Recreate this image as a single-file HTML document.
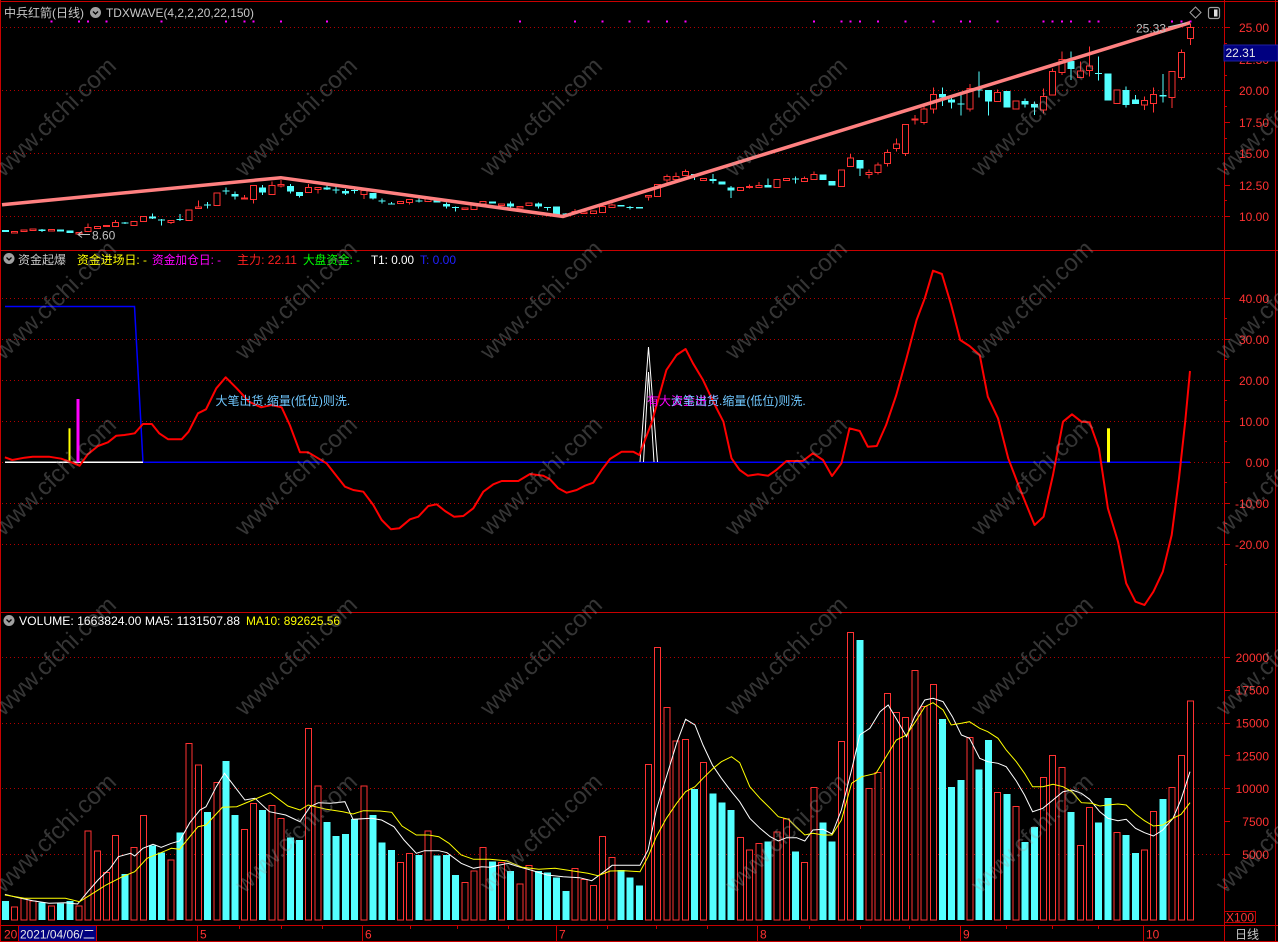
<!DOCTYPE html>
<html><head><meta charset="utf-8"><style>
html,body{margin:0;padding:0;background:#000;overflow:hidden}
svg{display:block}
</style></head><body>
<svg width="1278" height="942" viewBox="0 0 1278 942" xmlns="http://www.w3.org/2000/svg" font-family="'Liberation Sans','Noto Sans CJK SC',sans-serif" font-size="12">
<rect width="1278" height="942" fill="#000"/>

<!-- dotted grids -->
<g stroke="#b00000" stroke-width="1" stroke-dasharray="1 3" shape-rendering="crispEdges">
<path d="M2 27.5H1224M2 90.5H1224M2 153.5H1224M2 216.5H1224"/>
<path d="M2 298.5H1224M2 339.5H1224M2 380.5H1224M2 421.5H1224M2 462.5H1224M2 503.5H1224M2 544.5H1224"/>
<path d="M2 657.5H1224M2 723.5H1224M2 788.5H1224M2 854.5H1224"/>
</g>

<!-- frame -->
<g stroke="#c80000" stroke-width="1" fill="none" shape-rendering="crispEdges">
<path d="M0 1.5H1278M0 250.5H1278M0 612.5H1278M0 925.5H1278M0 941.5H1278"/>
<path d="M0.5 0V942M1224.5 0V942M1275.5 0V942"/>
<path d="M18.5 925V942M96.5 925V942M197.5 925V942M362.5 925V942M556.5 925V942M757.5 925V942M960.5 925V942M1143.5 925V942"/>
<path d="M239.5 925V929M281.5 925V929M322.5 925V929M410.5 925V929M457.5 925V929M508.5 925V929M607.5 925V929M656.5 925V929M707.5 925V929M809.5 925V929M860.5 925V929M909.5 925V929M1006.5 925V929M1052.5 925V929M1098.5 925V929"/>
<path d="M1224 27.5H1230M1224 59.5H1230M1224 90.5H1230M1224 122.5H1230M1224 153.5H1230M1224 185.5H1230M1224 216.5H1230M1224 43.5H1227M1224 75.5H1227M1224 106.5H1227M1224 138.5H1227M1224 169.5H1227M1224 200.5H1227"/>
<path d="M1224 298.5H1230M1224 339.5H1230M1224 380.5H1230M1224 421.5H1230M1224 462.5H1230M1224 503.5H1230M1224 544.5H1230M1224 318.5H1227M1224 359.5H1227M1224 400.5H1227M1224 441.5H1227M1224 482.5H1227M1224 523.5H1227M1224 564.5H1227"/>
<path d="M1224 657.5H1230M1224 690.5H1230M1224 723.5H1230M1224 755.5H1230M1224 788.5H1230M1224 821.5H1230M1224 854.5H1230M1224 887.5H1227"/>
<rect x="1224.5" y="911.5" width="31" height="11"/>
</g>

<!-- header panel 1 -->
<text x="4" y="17" fill="#c8c8c8" textLength="80" lengthAdjust="spacingAndGlyphs">中兵红箭(日线)</text>
<circle cx="95.5" cy="12.5" r="5.5" fill="#a0a0a0"/><path d="M93 11.5L95.5 14L98 11.5" stroke="#000" stroke-width="1.3" fill="none"/>
<text x="106" y="17" fill="#c8c8c8" textLength="148" lengthAdjust="spacingAndGlyphs">TDXWAVE(4,2,2,20,22,150)</text>

<!-- magenta dots -->
<g fill="#ff00ff" shape-rendering="crispEdges">
<rect x="50.4" y="20.5" width="2" height="2"/><rect x="78" y="20.5" width="2" height="2"/><rect x="87.2" y="20.5" width="2" height="2"/><rect x="105.5" y="20.5" width="2" height="2"/><rect x="160.7" y="20.5" width="2" height="2"/><rect x="225" y="20.5" width="2" height="2"/><rect x="243.3" y="20.5" width="2" height="2"/><rect x="252.5" y="20.5" width="2" height="2"/><rect x="280.1" y="20.5" width="2" height="2"/><rect x="326" y="20.5" width="2" height="2"/><rect x="518.9" y="20.5" width="2" height="2"/><rect x="574" y="20.5" width="2" height="2"/><rect x="601.6" y="20.5" width="2" height="2"/><rect x="628.5" y="20.5" width="2" height="2"/><rect x="647.5" y="20.5" width="2" height="2"/><rect x="665.9" y="20.5" width="2" height="2"/><rect x="684.3" y="20.5" width="2" height="2"/><rect x="812.9" y="20.5" width="2" height="2"/><rect x="840.4" y="20.5" width="2" height="2"/><rect x="849.6" y="20.5" width="2" height="2"/><rect x="858.8" y="20.5" width="2" height="2"/><rect x="877.2" y="20.5" width="2" height="2"/><rect x="904.7" y="20.5" width="2" height="2"/><rect x="932.3" y="20.5" width="2" height="2"/><rect x="959.8" y="20.5" width="2" height="2"/><rect x="969" y="20.5" width="2" height="2"/><rect x="996.6" y="20.5" width="2" height="2"/><rect x="1042.5" y="20.5" width="2" height="2"/><rect x="1051.7" y="20.5" width="2" height="2"/><rect x="1060.9" y="20.5" width="2" height="2"/><rect x="1070.1" y="20.5" width="2" height="2"/><rect x="1088.4" y="20.5" width="2" height="2"/><rect x="1097.6" y="20.5" width="2" height="2"/><rect x="1171.1" y="20.5" width="2" height="2"/><rect x="1180.3" y="20.5" width="2" height="2"/><rect x="1189.5" y="20.5" width="2" height="2"/>
</g>

<!-- candles: wicks -->
<path stroke="#ff3232" stroke-width="1" fill="none" shape-rendering="crispEdges" d="M88.2 223.3V231.3M115.7 220V226.3M170.8 220.3V224M198.4 200.3V208.5M244.3 195V199M253.5 185.3V203.3M271.9 181.7V194.3M281.1 180V187.3M308.6 184V192.7M317.8 187.7V193.3M363.8 188.3V199M409.7 199.3V204.3M428.1 197.3V201.3M575 209V213M611.8 203.3V207.7M648.5 195.3V200.3M666.9 174.3V182.7M676.1 172.7V181.7M685.3 169.3V175.7M749.6 184.3V188.3M758.8 182V187.3M804.7 176.7V181.7M813.9 171.7V179.3M850.6 154V166.7M869 169.3V178.7M878.2 162.7V174.7M887.4 149.3V166.7M896.5 138.3V151.7M905.7 124.3V156M914.9 115V124.3M924.1 106.7V124.3M933.3 87.7V113.3M970 84V111.7M997.6 89.3V101.7M1043.5 88.3V113.3M1052.7 68.3V95M1061.9 51.7V75M1080.3 61.7V77.3M1089.4 46.7V76.7M1144.6 96.7V110M1153.7 87.3V112.3M1172.1 71.7V108M1181.3 49.3V80M1190.5 23.3V45"/>
<path stroke="#54ffff" stroke-width="1" fill="none" shape-rendering="crispEdges" d="M42.2 229V232M124.9 222V224M152.5 213.3V219M161.7 219V225.3M180 214V221M207.6 202V208.3M226 187.3V194.3M235.2 191.7V199.3M262.7 185V195M290.3 184V193.3M299.5 192V197.3M327 182.3V190M336.2 187V193.7M345.4 189V195M354.6 188.3V193.3M372.9 193V199.7M382.1 198.3V203.7M391.3 202V204.7M418.9 198.3V202.7M446.4 202.3V208.3M455.6 206.3V211.3M510.7 201.7V208.7M538.3 202.7V208.7M547.5 207V210.3M565.8 213V216M630.1 206V209.5M694.5 174V180M712.8 174V183.3M731.2 186V198M767.9 178.3V187.3M795.5 176.7V183.3M859.8 160V176M942.5 87.3V106M951.7 95V108.3M960.8 92.7V115.7M979.2 71.7V97.7M988.4 90V115.7M1025.1 98.3V107.3M1034.3 101.7V115M1071.1 51.7V80M1098.6 56.7V80.7M1126.2 86.7V107.3M1135.4 95V104M1162.9 74V102.7"/>
<!-- red candle bodies -->
<g fill="#000" stroke="#ff3232" stroke-width="1" shape-rendering="crispEdges">
<rect x="11.7" y="231.5" width="6" height="1.5"/><rect x="20.9" y="230" width="6" height="1.5"/><rect x="30.1" y="229" width="6" height="1.5"/><rect x="48.4" y="229.5" width="6" height="1.5"/><rect x="76" y="232.5" width="6" height="1.5"/><rect x="85.2" y="227.3" width="6" height="4"/><rect x="94.4" y="226.3" width="6" height="2.4"/><rect x="103.5" y="225.5" width="6" height="1.2"/><rect x="112.7" y="222.3" width="6" height="4"/><rect x="131.1" y="221.3" width="6" height="4"/><rect x="140.3" y="216.3" width="6" height="5.4"/><rect x="167.8" y="220.3" width="6" height="2"/><rect x="186.2" y="210" width="6" height="10.7"/><rect x="195.4" y="207" width="6" height="1.5"/><rect x="213.8" y="193" width="6" height="12.3"/><rect x="241.3" y="198" width="6" height="1"/><rect x="250.5" y="185.3" width="6" height="14"/><rect x="268.9" y="185.3" width="6" height="9"/><rect x="278.1" y="184.7" width="6" height="1.3"/><rect x="305.6" y="187.3" width="6" height="5.4"/><rect x="314.8" y="187.7" width="6" height="1.6"/><rect x="360.8" y="190.7" width="6" height="4"/><rect x="397.5" y="201.3" width="6" height="2.4"/><rect x="406.7" y="199.3" width="6" height="3"/><rect x="425.1" y="199" width="6" height="2.3"/><rect x="461.8" y="208" width="6" height="1.3"/><rect x="471" y="205" width="6" height="4.3"/><rect x="480.2" y="201.3" width="6" height="2.7"/><rect x="498.5" y="204" width="6" height="1.3"/><rect x="516.9" y="206.3" width="6" height="1.7"/><rect x="526.1" y="203" width="6" height="2.7"/><rect x="572" y="211.5" width="6" height="1.5"/><rect x="581.2" y="212" width="6" height="1.7"/><rect x="590.4" y="211" width="6" height="2.3"/><rect x="599.6" y="206.3" width="6" height="6"/><rect x="608.8" y="205" width="6" height="2.7"/><rect x="645.5" y="195.3" width="6" height="1.7"/><rect x="654.7" y="184.3" width="6" height="12.4"/><rect x="663.9" y="176.7" width="6" height="3.3"/><rect x="673.1" y="176.7" width="6" height="2.6"/><rect x="682.3" y="171.7" width="6" height="4"/><rect x="700.6" y="178.3" width="6" height="2.4"/><rect x="737.4" y="187.3" width="6" height="3"/><rect x="746.6" y="186.5" width="6" height="1"/><rect x="755.8" y="185.3" width="6" height="2"/><rect x="774.1" y="179.3" width="6" height="8"/><rect x="783.3" y="178.3" width="6" height="2.4"/><rect x="801.7" y="178.3" width="6" height="3.4"/><rect x="810.9" y="174.7" width="6" height="4.6"/><rect x="838.4" y="170" width="6" height="16.7"/><rect x="847.6" y="158" width="6" height="8.7"/><rect x="866" y="172.7" width="6" height="2"/><rect x="875.2" y="165" width="6" height="7.7"/><rect x="884.4" y="152.3" width="6" height="11"/><rect x="893.5" y="144" width="6" height="4.3"/><rect x="902.7" y="124.3" width="6" height="29"/><rect x="911.9" y="119" width="6" height="1"/><rect x="921.1" y="109" width="6" height="13.7"/><rect x="930.3" y="94.3" width="6" height="14.7"/><rect x="967" y="88.3" width="6" height="20.7"/><rect x="994.6" y="92.3" width="6" height="9.4"/><rect x="1013" y="101" width="6" height="8"/><rect x="1040.5" y="96.7" width="6" height="13.3"/><rect x="1049.7" y="71.7" width="6" height="23.3"/><rect x="1058.9" y="59.3" width="6" height="13.4"/><rect x="1077.3" y="71" width="6" height="6.3"/><rect x="1086.4" y="66" width="6" height="4.7"/><rect x="1114" y="90" width="6" height="13.3"/><rect x="1141.6" y="100.7" width="6" height="4.3"/><rect x="1150.7" y="94.3" width="6" height="9"/><rect x="1169.1" y="71.7" width="6" height="26"/><rect x="1178.3" y="52.3" width="6" height="25.4"/><rect x="1187.5" y="27.3" width="6" height="11"/>
</g>
<!-- cyan candle bodies -->
<g fill="#54ffff" shape-rendering="crispEdges">
<rect x="2" y="230" width="7" height="2"/><rect x="38.7" y="229.5" width="7" height="1.5"/><rect x="57.1" y="229.7" width="7" height="1.8"/><rect x="66.3" y="230.5" width="7" height="2.5"/><rect x="121.4" y="222.5" width="7" height="1"/><rect x="149" y="216.7" width="7" height="1.6"/><rect x="158.2" y="219.3" width="7" height="1.4"/><rect x="176.5" y="219" width="7" height="1"/><rect x="204.1" y="204.5" width="7" height="1"/><rect x="222.5" y="190.5" width="7" height="1"/><rect x="231.7" y="194" width="7" height="2.7"/><rect x="259.2" y="187.3" width="7" height="5.4"/><rect x="286.8" y="186" width="7" height="5.3"/><rect x="296" y="192" width="7" height="4"/><rect x="323.5" y="187.7" width="7" height="2"/><rect x="332.7" y="189.3" width="7" height="1"/><rect x="341.9" y="191" width="7" height="2.7"/><rect x="351.1" y="190" width="7" height="1"/><rect x="369.4" y="193" width="7" height="5.7"/><rect x="378.6" y="200.5" width="7" height="1"/><rect x="387.8" y="203.5" width="7" height="1"/><rect x="415.4" y="200.3" width="7" height="1"/><rect x="433.7" y="200.7" width="7" height="1.6"/><rect x="442.9" y="204" width="7" height="2.3"/><rect x="452.1" y="207.2" width="7" height="1"/><rect x="488.9" y="201.3" width="7" height="2.4"/><rect x="507.2" y="203.7" width="7" height="3"/><rect x="534.8" y="203.7" width="7" height="3"/><rect x="544" y="207" width="7" height="1"/><rect x="553.2" y="206.3" width="7" height="8"/><rect x="562.3" y="213.3" width="7" height="1"/><rect x="617.5" y="205" width="7" height="1.7"/><rect x="626.6" y="207" width="7" height="1"/><rect x="635.8" y="207" width="7" height="1.7"/><rect x="691" y="174" width="7" height="2"/><rect x="709.3" y="179" width="7" height="2"/><rect x="718.5" y="181.7" width="7" height="2.6"/><rect x="727.7" y="187.7" width="7" height="3"/><rect x="764.4" y="185" width="7" height="2.3"/><rect x="792" y="178.5" width="7" height="1"/><rect x="819.6" y="174.7" width="7" height="5.3"/><rect x="828.7" y="181" width="7" height="4.7"/><rect x="856.3" y="160" width="7" height="8.3"/><rect x="939" y="94" width="7" height="3.3"/><rect x="948.2" y="99.3" width="7" height="3.4"/><rect x="957.3" y="103.5" width="7" height="1"/><rect x="975.7" y="89.5" width="7" height="1"/><rect x="984.9" y="90" width="7" height="11.7"/><rect x="1003.3" y="91" width="7" height="16.7"/><rect x="1021.6" y="101" width="7" height="3.3"/><rect x="1030.8" y="104" width="7" height="3.7"/><rect x="1067.6" y="61" width="7" height="8"/><rect x="1095.1" y="73" width="7" height="1"/><rect x="1104.3" y="73.3" width="7" height="27.4"/><rect x="1122.7" y="90" width="7" height="15"/><rect x="1131.9" y="99.3" width="7" height="4.7"/><rect x="1159.4" y="95" width="7" height="1.7"/>
</g>

<!-- TDXWAVE line -->
<polyline points="2,204.7 280.8,177.7 563,216.5 1190,22.7" fill="none" stroke="#ff8080" stroke-width="3.5" stroke-linejoin="miter"/>

<!-- price annotations -->
<text x="1136" y="32.5" fill="#c0c0c0">25.33</text>
<path d="M1168 27L1186 23" stroke="#c0c0c0" stroke-width="1"/>
<path d="M78 234.5H90M82 231.5L78 234.5L82 237.5" stroke="#c0c0c0" stroke-width="1" fill="none"/>
<text x="92" y="239.5" fill="#c0c0c0">8.60</text>
<polygon points="1195.5,7 1201,12.5 1195.5,18 1190,12.5" fill="none" stroke="#a0a0a0" stroke-width="1"/>
<rect x="1208.5" y="7.5" width="11" height="11" rx="2" fill="none" stroke="#a0a0a0" stroke-width="1.2"/>
<rect x="1214" y="9.5" width="3.5" height="7" fill="#e0e0e0"/>

<!-- right axis labels panel 1 -->
<g fill="#ff3232" text-anchor="end">
<text x="1269" y="32">25.00</text><text x="1269" y="64">22.50</text><text x="1269" y="95">20.00</text><text x="1269" y="127">17.50</text><text x="1269" y="158">15.00</text><text x="1269" y="190">12.50</text><text x="1269" y="221">10.00</text>
</g>
<rect x="1224" y="45" width="54" height="16" fill="#000080" stroke="#2020a0" stroke-width="1"/>
<text x="1225.5" y="57" fill="#e8e8e8">22.31</text>

<!-- panel 2 header -->
<circle cx="9" cy="258.5" r="5.5" fill="#a0a0a0"/><path d="M6.5 257.5L9 260L11.5 257.5" stroke="#000" stroke-width="1.3" fill="none"/>
<text x="18" y="264" fill="#c8c8c8" textLength="48" lengthAdjust="spacingAndGlyphs">资金起爆</text>
<text x="77" y="264" fill="#ffff00" textLength="70" lengthAdjust="spacingAndGlyphs">资金进场日: -</text>
<text x="152" y="264" fill="#ff00ff" textLength="69" lengthAdjust="spacingAndGlyphs">资金加仓日: -</text>
<text x="237" y="264" fill="#ff2020" textLength="60" lengthAdjust="spacingAndGlyphs">主力: 22.11</text>
<text x="303" y="264" fill="#00ff00" textLength="57" lengthAdjust="spacingAndGlyphs">大盘资金: -</text>
<text x="371" y="264" fill="#ffffff" textLength="43" lengthAdjust="spacingAndGlyphs">T1: 0.00</text>
<text x="420" y="264" fill="#2020ff" textLength="36" lengthAdjust="spacingAndGlyphs">T: 0.00</text>

<!-- panel 2 axis labels -->
<g fill="#ff3232" text-anchor="end">
<text x="1269" y="302.8">40.00</text><text x="1269" y="343.8">30.00</text><text x="1269" y="384.8">20.00</text><text x="1269" y="425.8">10.00</text><text x="1269" y="466.8">0.00</text><text x="1269" y="507.8">-10.00</text><text x="1269" y="548.8">-20.00</text>
</g>

<!-- panel 2 series -->
<polyline points="5,306.5 134.5,306.5 143,462.3 1190,462.3" fill="none" stroke="#0000ff" stroke-width="1.5"/>
<polyline points="5,462.3 143,462.3" fill="none" stroke="#ffffff" stroke-width="1.5"/>
<polyline points="640,462 648.5,347 657.5,462" fill="none" stroke="#ffffff" stroke-width="1"/>
<polyline points="643.5,462 648.5,372 654,462" fill="none" stroke="#ffffff" stroke-width="1"/>
<rect x="68.5" y="428.3" width="2" height="34" fill="#ffff00"/>
<rect x="76.5" y="399" width="3" height="63.3" fill="#ff00ff"/>
<rect x="1107" y="428.3" width="3" height="34" fill="#ffff00"/>
<polyline fill="none" stroke="#ff0000" stroke-width="2" stroke-linejoin="round" points="4.9,457.3 12.2,460 24.5,457.7 32.7,456.7 49,456.7 61.2,458.7 71.4,462.3 79.6,465.7 87.8,454.3 98,446 108,442.3 116.3,435.7 124.5,435 134.7,433.3 142.9,424 151.8,424 159.2,433.3 168.2,439.3 181.6,439.3 188.6,431.7 198,413.3 206,409.3 216.3,388.3 225.7,377.3 236.7,388.3 249,401.7 261.2,407.3 271.4,405 281.6,407.3 289.8,425 300,452.3 308.2,452.3 326.5,463.3 345,486.7 353.3,490 363.3,491.7 373.3,505 381.7,520 391,529.3 399.3,528.3 410,519.3 418.3,516.7 428.3,506 436.7,504.3 445,511 454,516.7 463.3,516 473.3,508.3 483.3,491.7 493.3,484.3 501.7,481 518.3,481 530,474 543.3,475.7 550,479.3 558.3,488.3 566.7,492.7 576.7,490 585,485.7 593.3,482.7 601.7,470 610,459 621.7,451.7 633.3,451.7 639.3,455 645,440 652,421.7 666.4,370 676.6,355 685.6,349 693,363.3 703,380 713.2,401.7 723.4,421.7 731.5,458.3 739.7,470 747.8,475.7 758,474.3 768.2,475.7 776.3,470 786.5,461 802.7,461 812.9,453.3 823,460 832,476 841.4,463.3 849.5,428.3 859.7,431 867.8,446.7 876.8,446 886.1,425 896.3,395 906.5,358.3 916.6,320 924.8,298.3 933,270.7 941.9,274 951.2,305 960.2,340 969.5,346 979.7,355 987.8,396.7 998,418.3 1008.2,458.3 1018.4,485 1026.5,505 1034.6,525 1043.6,516.7 1053,475 1063,421.7 1072,414.3 1081.4,421.7 1089.6,422.3 1098.9,448.3 1107.9,508.3 1118,541.7 1126.2,583.3 1135.5,601.7 1144.5,605 1153.4,591.7 1162.8,571.7 1171.7,535 1179,478.3 1185.2,421.7 1190,371"/>
<text x="215.5" y="405" fill="#70c8ff">大笔出货.缩量(低位)则洗.</text>
<text x="647" y="405" fill="#ff00ff">有大资金进货</text>
<text x="671" y="405" fill="#70c8ff">大笔出货.缩量(低位)则洗.</text>

<!-- volume header -->
<circle cx="9" cy="620.5" r="5.5" fill="#a0a0a0"/><path d="M6.5 619.5L9 622L11.5 619.5" stroke="#000" stroke-width="1.3" fill="none"/>
<text x="19" y="625" fill="#ffffff" textLength="221" lengthAdjust="spacingAndGlyphs">VOLUME: 1663824.00 MA5: 1131507.88</text>
<text x="246" y="625" fill="#ffff00" textLength="94" lengthAdjust="spacingAndGlyphs">MA10: 892625.56</text>

<!-- volume axis labels -->
<g fill="#ff3232" text-anchor="end">
<text x="1269" y="661.8">20000</text><text x="1269" y="694.6">17500</text><text x="1269" y="727.5">15000</text><text x="1269" y="760.3">12500</text><text x="1269" y="793.2">10000</text><text x="1269" y="826">7500</text><text x="1269" y="858.8">5000</text>
<text x="1254" y="921.5">X100</text>
</g>

<!-- volume bars red -->
<g fill="#000" stroke="#ff3232" stroke-width="1" shape-rendering="crispEdges">
<rect x="11.7" y="907" width="6" height="13"/><rect x="20.9" y="898.3" width="6" height="21.7"/><rect x="30.1" y="901" width="6" height="19"/><rect x="48.4" y="906" width="6" height="14"/><rect x="76" y="906" width="6" height="14"/><rect x="85.2" y="831" width="6" height="89"/><rect x="94.4" y="851" width="6" height="69"/><rect x="103.5" y="872.3" width="6" height="47.7"/><rect x="112.7" y="835.3" width="6" height="84.7"/><rect x="131.1" y="847.3" width="6" height="72.7"/><rect x="140.3" y="815.3" width="6" height="104.7"/><rect x="167.8" y="860" width="6" height="60"/><rect x="186.2" y="743.3" width="6" height="176.7"/><rect x="195.4" y="765" width="6" height="155"/><rect x="213.8" y="782.3" width="6" height="137.7"/><rect x="241.3" y="829.3" width="6" height="90.7"/><rect x="250.5" y="803.3" width="6" height="116.7"/><rect x="268.9" y="805.3" width="6" height="114.7"/><rect x="278.1" y="818.3" width="6" height="101.7"/><rect x="305.6" y="728.3" width="6" height="191.7"/><rect x="314.8" y="786" width="6" height="134"/><rect x="360.8" y="786" width="6" height="134"/><rect x="397.5" y="862.3" width="6" height="57.7"/><rect x="406.7" y="853.3" width="6" height="66.7"/><rect x="425.1" y="831" width="6" height="89"/><rect x="461.8" y="882.3" width="6" height="37.7"/><rect x="471" y="871" width="6" height="49"/><rect x="480.2" y="847.3" width="6" height="72.7"/><rect x="498.5" y="862.3" width="6" height="57.7"/><rect x="516.9" y="884" width="6" height="36"/><rect x="526.1" y="865.7" width="6" height="54.3"/><rect x="572" y="868.3" width="6" height="51.7"/><rect x="581.2" y="879.3" width="6" height="40.7"/><rect x="590.4" y="885.3" width="6" height="34.7"/><rect x="599.6" y="836.3" width="6" height="83.7"/><rect x="608.8" y="857.3" width="6" height="62.7"/><rect x="645.5" y="764.3" width="6" height="155.7"/><rect x="654.7" y="647.3" width="6" height="272.7"/><rect x="663.9" y="707.3" width="6" height="212.7"/><rect x="673.1" y="741" width="6" height="179"/><rect x="682.3" y="739.3" width="6" height="180.7"/><rect x="700.6" y="762.3" width="6" height="157.7"/><rect x="737.4" y="837.3" width="6" height="82.7"/><rect x="746.6" y="850" width="6" height="70"/><rect x="755.8" y="843.3" width="6" height="76.7"/><rect x="774.1" y="832" width="6" height="88"/><rect x="783.3" y="819" width="6" height="101"/><rect x="801.7" y="862.3" width="6" height="57.7"/><rect x="810.9" y="787.3" width="6" height="132.7"/><rect x="838.4" y="741.3" width="6" height="178.7"/><rect x="847.6" y="632.3" width="6" height="287.7"/><rect x="866" y="788.3" width="6" height="131.7"/><rect x="875.2" y="772.3" width="6" height="147.7"/><rect x="884.4" y="693.3" width="6" height="226.7"/><rect x="893.5" y="712.3" width="6" height="207.7"/><rect x="902.7" y="717.3" width="6" height="202.7"/><rect x="911.9" y="670.3" width="6" height="249.7"/><rect x="921.1" y="706.7" width="6" height="213.3"/><rect x="930.3" y="684.3" width="6" height="235.7"/><rect x="967" y="737.3" width="6" height="182.7"/><rect x="994.6" y="792.3" width="6" height="127.7"/><rect x="1013" y="806.3" width="6" height="113.7"/><rect x="1040.5" y="777.3" width="6" height="142.7"/><rect x="1049.7" y="755.3" width="6" height="164.7"/><rect x="1058.9" y="767.3" width="6" height="152.7"/><rect x="1077.3" y="845.3" width="6" height="74.7"/><rect x="1086.4" y="807.3" width="6" height="112.7"/><rect x="1114" y="832.3" width="6" height="87.7"/><rect x="1141.6" y="850" width="6" height="70"/><rect x="1150.7" y="811.3" width="6" height="108.7"/><rect x="1169.1" y="787.3" width="6" height="132.7"/><rect x="1178.3" y="755.3" width="6" height="164.7"/><rect x="1187.5" y="701" width="6" height="219"/>
</g>
<!-- volume bars cyan -->
<g fill="#54ffff" shape-rendering="crispEdges">
<rect x="2" y="901" width="7" height="19"/><rect x="38.7" y="902.3" width="7" height="17.7"/><rect x="57.1" y="903.3" width="7" height="16.7"/><rect x="66.3" y="901" width="7" height="19"/><rect x="121.4" y="874" width="7" height="46"/><rect x="149" y="845.3" width="7" height="74.7"/><rect x="158.2" y="852.3" width="7" height="67.7"/><rect x="176.5" y="832.7" width="7" height="87.3"/><rect x="204.1" y="812" width="7" height="108"/><rect x="222.5" y="761" width="7" height="159"/><rect x="231.7" y="815" width="7" height="105"/><rect x="259.2" y="810" width="7" height="110"/><rect x="286.8" y="837.7" width="7" height="82.3"/><rect x="296" y="840" width="7" height="80"/><rect x="323.5" y="822" width="7" height="98"/><rect x="332.7" y="836" width="7" height="84"/><rect x="341.9" y="834" width="7" height="86"/><rect x="351.1" y="819" width="7" height="101"/><rect x="369.4" y="815" width="7" height="105"/><rect x="378.6" y="842.7" width="7" height="77.3"/><rect x="387.8" y="850" width="7" height="70"/><rect x="415.4" y="855" width="7" height="65"/><rect x="433.7" y="855.7" width="7" height="64.3"/><rect x="442.9" y="855" width="7" height="65"/><rect x="452.1" y="875" width="7" height="45"/><rect x="488.9" y="861.7" width="7" height="58.3"/><rect x="507.2" y="871" width="7" height="49"/><rect x="534.8" y="871" width="7" height="49"/><rect x="544" y="872.3" width="7" height="47.7"/><rect x="553.2" y="877.7" width="7" height="42.3"/><rect x="562.3" y="891" width="7" height="29"/><rect x="617.5" y="870" width="7" height="50"/><rect x="626.6" y="877.7" width="7" height="42.3"/><rect x="635.8" y="885.3" width="7" height="34.7"/><rect x="691" y="789" width="7" height="131"/><rect x="709.3" y="793.7" width="7" height="126.3"/><rect x="718.5" y="802.7" width="7" height="117.3"/><rect x="727.7" y="810" width="7" height="110"/><rect x="764.4" y="841.7" width="7" height="78.3"/><rect x="792" y="851.7" width="7" height="68.3"/><rect x="819.6" y="822.7" width="7" height="97.3"/><rect x="828.7" y="841.7" width="7" height="78.3"/><rect x="856.3" y="640" width="7" height="280"/><rect x="939" y="719" width="7" height="201"/><rect x="948.2" y="787" width="7" height="133"/><rect x="957.3" y="780" width="7" height="140"/><rect x="975.7" y="769.3" width="7" height="150.7"/><rect x="984.9" y="740" width="7" height="180"/><rect x="1003.3" y="794" width="7" height="126"/><rect x="1021.6" y="842" width="7" height="78"/><rect x="1030.8" y="827" width="7" height="93"/><rect x="1067.6" y="812" width="7" height="108"/><rect x="1095.1" y="822.7" width="7" height="97.3"/><rect x="1104.3" y="798" width="7" height="122"/><rect x="1122.7" y="835" width="7" height="85"/><rect x="1131.9" y="853" width="7" height="67"/><rect x="1159.4" y="799" width="7" height="121"/>
</g>

<!-- MA lines -->
<polyline fill="none" stroke="#ffffff" stroke-width="1" points="4.9,894.3 16.3,897.3 32.7,900.7 49,903.3 65.3,902.7 77.6,904 87.8,891.7 98,880 110.2,868.3 118.4,856.7 130.6,853.3 134.7,856 142.9,848.3 153,844.3 161.2,847.3 171.4,843.3 179.6,841 189.8,822.7 200,810 206,806.7 216.3,786.7 224.5,773.3 234.7,786.7 244.9,800 255,798.3 269.4,811.7 285.7,815 300,821.7 310.2,806.7 318.4,802.7 330.6,803.3 344.9,801.7 353,819.3 371.4,818.3 381.6,820 393.9,826.7 404,840 416.3,853.3 424.5,850.7 438.8,850.7 447,852.7 461.2,863.3 473.5,868.3 481.6,866.7 489.8,867.3 508,863.3 518.4,866.7 530.6,870 547,875 563.3,876.7 579.6,877.7 591.8,880.7 604,871.7 612.2,865.3 640,865.3 648.1,850 656.3,810 668.5,770 676.6,743.3 685.6,719.3 695,725 703,745 712.4,765 721.4,778.3 731.5,791.7 739.7,801.7 749.8,818.3 760,828.3 770.2,836.7 778.3,841 786.5,837.7 796.6,837.7 804.8,841 812.9,830 823,829.3 832,834 841.4,810 851.6,770 859.7,735 869.9,728.3 880,711.7 888.2,705 897.1,720 906.5,736.7 914.6,716.7 924.8,700 933,698.3 943.1,701.7 952.4,716.7 961.4,735 969.5,738.3 979.7,758.3 987.8,761.7 998,763.3 1006.2,766.7 1016.3,781 1024.5,795 1032.6,811.7 1042.8,808.3 1053,800 1063,791.7 1072,790 1081.4,793.3 1089.6,799.3 1099.7,811.7 1107.9,818.3 1118,820.7 1126.2,819.3 1135.5,828.3 1144.5,832.7 1153.4,836 1162.8,830 1173,818.3 1181.1,799.3 1190,771.7"/>
<polyline fill="none" stroke="#ffff00" stroke-width="1" points="4.9,895 24.5,898.3 49,898.3 65.3,898.3 79.6,901.7 93.9,892.7 106,885 122.4,876.7 134.7,871.7 147,858.3 163.3,851.7 171.4,848.3 179.6,849.3 189.8,836.7 198,826.7 206,825 222.4,807.3 236.7,806.7 253,800 270.2,792.7 287.8,806 300,810 308.2,805 326.5,809.3 342.9,811.7 353,814 363.3,810.7 379.6,811 391.8,812.3 402,826 416.3,835 428.6,835 438.8,836.7 449,843.3 461.2,855 473.5,859.3 489.8,859.3 506,860.7 522.4,867.3 538.8,869.3 555,868.3 571.4,870.7 587.8,873.3 598,875.7 610.2,871 624.5,870.7 640,871.7 648.1,856.7 656.3,836.7 666.4,818.3 676.6,803.3 685.6,791.7 695,786.7 703,778.3 713.2,768.3 721.4,761.7 731.5,756.7 739.7,762.7 749.8,786.7 760,798.3 770.2,808.3 778.3,816.7 788.5,819.3 796.6,827.3 804.8,835 812.9,833.3 823,835 832,835 841.4,820 851.6,783.3 861.7,776.7 876,773.3 886.1,756.7 896.3,740 906.5,735 916.6,720 924.8,706.7 933,702.7 943.1,710 951.2,725 961.4,723.3 969.5,721.7 979.7,728.3 987.8,731.7 998,738.3 1006.2,750 1016.3,761.7 1024.5,773.3 1032.6,786.7 1042.8,786.7 1053,784.3 1063,786.7 1072,791.7 1081.4,802.7 1091.6,803.3 1099.7,806 1107.9,805 1118,804 1126.2,805 1135.5,814 1144.5,820.7 1153.4,826 1162.8,825 1173,818.3 1181.1,814.3 1190,802.7"/>

<!-- bottom axis -->
<text x="4" y="938.5" fill="#ff3232">20</text>
<rect x="19" y="926" width="77" height="15" fill="#000080"/>
<text x="20" y="938.5" fill="#e8e8e8" textLength="75" lengthAdjust="spacingAndGlyphs">2021/04/06/二</text>
<g fill="#ff3232">
<text x="200" y="938.5">5</text><text x="365" y="938.5">6</text><text x="559" y="938.5">7</text><text x="760" y="938.5">8</text><text x="963" y="938.5">9</text><text x="1146" y="938.5">10</text>
</g>
<text x="1235" y="938.5" fill="#c8c8c8">日线</text>

<!-- watermarks -->
<g fill="#a0a0a0" fill-opacity="0.33" font-size="24" text-anchor="middle">
<text x="55" y="125" transform="rotate(-44 55 117)">www.cfchi.com</text>
<text x="296" y="125" transform="rotate(-44 296 117)">www.cfchi.com</text>
<text x="541" y="125" transform="rotate(-44 541 117)">www.cfchi.com</text>
<text x="786" y="125" transform="rotate(-44 786 117)">www.cfchi.com</text>
<text x="1032" y="125" transform="rotate(-44 1032 117)">www.cfchi.com</text>
<text x="1277" y="125" transform="rotate(-44 1277 117)">www.cfchi.com</text>
<text x="55" y="308" transform="rotate(-44 55 300)">www.cfchi.com</text>
<text x="296" y="308" transform="rotate(-44 296 300)">www.cfchi.com</text>
<text x="541" y="308" transform="rotate(-44 541 300)">www.cfchi.com</text>
<text x="786" y="308" transform="rotate(-44 786 300)">www.cfchi.com</text>
<text x="1032" y="308" transform="rotate(-44 1032 300)">www.cfchi.com</text>
<text x="1277" y="308" transform="rotate(-44 1277 300)">www.cfchi.com</text>
<text x="55" y="484" transform="rotate(-44 55 476)">www.cfchi.com</text>
<text x="296" y="484" transform="rotate(-44 296 476)">www.cfchi.com</text>
<text x="541" y="484" transform="rotate(-44 541 476)">www.cfchi.com</text>
<text x="786" y="484" transform="rotate(-44 786 476)">www.cfchi.com</text>
<text x="1032" y="484" transform="rotate(-44 1032 476)">www.cfchi.com</text>
<text x="1277" y="484" transform="rotate(-44 1277 476)">www.cfchi.com</text>
<text x="55" y="664" transform="rotate(-44 55 656)">www.cfchi.com</text>
<text x="296" y="664" transform="rotate(-44 296 656)">www.cfchi.com</text>
<text x="541" y="664" transform="rotate(-44 541 656)">www.cfchi.com</text>
<text x="786" y="664" transform="rotate(-44 786 656)">www.cfchi.com</text>
<text x="1032" y="664" transform="rotate(-44 1032 656)">www.cfchi.com</text>
<text x="1277" y="664" transform="rotate(-44 1277 656)">www.cfchi.com</text>
<text x="55" y="841" transform="rotate(-44 55 833)">www.cfchi.com</text>
<text x="296" y="841" transform="rotate(-44 296 833)">www.cfchi.com</text>
<text x="541" y="841" transform="rotate(-44 541 833)">www.cfchi.com</text>
<text x="786" y="841" transform="rotate(-44 786 833)">www.cfchi.com</text>
<text x="1032" y="841" transform="rotate(-44 1032 833)">www.cfchi.com</text>
<text x="1277" y="841" transform="rotate(-44 1277 833)">www.cfchi.com</text>
</g>
</svg>
</body></html>
